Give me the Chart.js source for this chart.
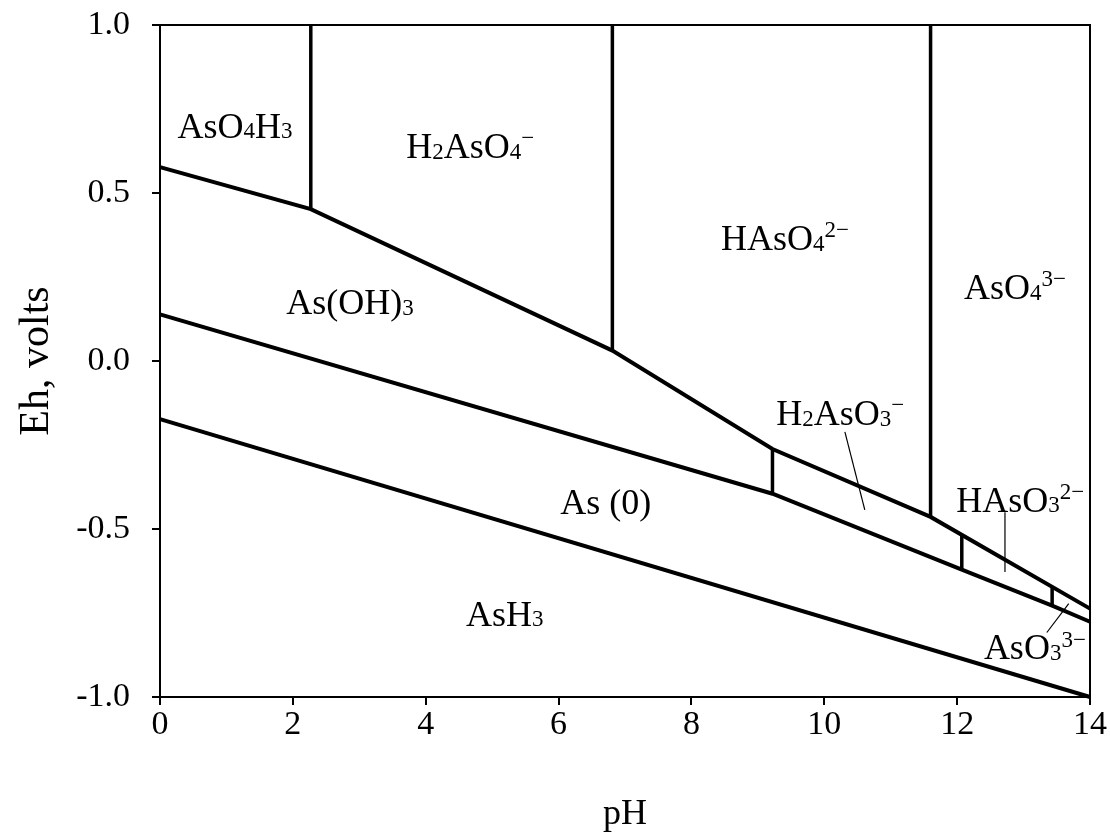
<!DOCTYPE html>
<html>
<head>
<meta charset="utf-8">
<script src="https://cdn.jsdelivr.net/npm/chart.js@4.4.1/dist/chart.umd.min.js"></script>
<style>
  html, body { margin: 0; padding: 0; background: #fff; }
  #wrap { width: 1110px; height: 834px; }
</style>
</head>
<body>
<div id="wrap"><canvas id="c"></canvas></div>
<script>
// Boundary lines of the As Eh-pH diagram
const upperPH = [0, 2.27, 6.81, 9.22, 11.6, 14];
const upperEh = [0.577, 0.452, 0.031, -0.262, -0.464, -0.737];

const middlePH = [0, 9.22, 12.07, 13.43, 14];
const middleEh = [0.139, -0.395, -0.621, -0.728, -0.776];

const lowerPH = [0, 14];
const lowerEh = [-0.173, -1.0];

// vertical acid/base boundaries
const vertPH = [2.27, 6.81, 11.6, 9.22, 12.07, 13.43];
const vertTop = [1.0, 1.0, 1.0, -0.262, -0.52, -0.675];
const vertBottom = [0.452, 0.031, -0.464, -0.395, -0.621, -0.728];

// thin leader lines from labels
const leaderPH = [[10.31, 10.61], [12.72, 12.72], [13.35, 13.68]];
const leaderEh = [[-0.211, -0.443], [-0.45, -0.628], [-0.808, -0.722]];

// species labels ( _{..} subscript, ^{..} superscript )
const labelText = ['AsO_{4}H_{3}', 'H_{2}AsO_{4}^{−}', 'HAsO_{4}^{2−}', 'AsO_{4}^{3−}',
  'As(OH)_{3}', 'H_{2}AsO_{3}^{−}', 'As (0)', 'HAsO_{3}^{2−}', 'AsH_{3}', 'AsO_{3}^{3−}'];
const labelPH = [1.13, 4.67, 9.41, 12.87, 2.86, 10.24, 6.71, 12.95, 5.19, 13.17];
const labelEh = [0.70, 0.64, 0.366, 0.22, 0.175, -0.155, -0.419, -0.413, -0.752, -0.853];

const xTicks = [0, 2, 4, 6, 8, 10, 12, 14];
const yTicks = [-1.0, -0.5, 0.0, 0.5, 1.0];

const FONT = '"Liberation Serif", "Times New Roman", serif';

function pts(xs, ys) {
  return xs.map((x, i) => ({ x: x, y: ys[i] }));
}

const heavy = { borderColor: '#000', borderWidth: 4, pointRadius: 0, showLine: true, fill: false, clip: 4 };

const datasets = [
  Object.assign({ data: pts(upperPH, upperEh) }, heavy),
  Object.assign({ data: pts(middlePH, middleEh) }, heavy),
  Object.assign({ data: pts(lowerPH, lowerEh) }, heavy)
];
vertPH.forEach((p, i) => {
  datasets.push(Object.assign({ data: [{ x: p, y: vertTop[i] }, { x: p, y: vertBottom[i] }] }, heavy, { borderWidth: 3.5 }));
});
leaderPH.forEach((xs, i) => {
  datasets.push({ data: pts(xs, leaderEh[i]), borderColor: '#000', borderWidth: 1.2, pointRadius: 0, showLine: true });
});

function drawRich(ctx, str, cx, cy, size) {
  const parts = [];
  const re = /_\{([^}]*)\}|\^\{([^}]*)\}|([^_^]+)/g;
  let m;
  while ((m = re.exec(str)) !== null) {
    if (m[1] !== undefined) parts.push({ t: m[1], k: 'sub' });
    else if (m[2] !== undefined) parts.push({ t: m[2], k: 'sup' });
    else parts.push({ t: m[3], k: '' });
  }
  const small = Math.round(size * 0.64);
  let w = 0;
  parts.forEach(p => {
    ctx.font = (p.k ? small : size) + 'px ' + FONT;
    p.w = ctx.measureText(p.t).width;
    w += p.w;
  });
  let x = cx - w / 2;
  const base = cy + size * 0.33;
  parts.forEach(p => {
    ctx.font = (p.k ? small : size) + 'px ' + FONT;
    let y = base;
    if (p.k === 'sub') y = base + size * 0.02;
    if (p.k === 'sup') y = base - size * 0.36;
    ctx.fillText(p.t, x, y);
    x += p.w;
  });
}

const decor = {
  id: 'decor',
  afterDatasetsDraw(chart) {
    const { ctx, chartArea: a, scales } = chart;
    ctx.save();
    ctx.strokeStyle = '#000';
    ctx.lineWidth = 2;
    ctx.beginPath();
    ctx.moveTo(a.left, a.top);
    ctx.lineTo(a.right, a.top);
    ctx.lineTo(a.right, a.bottom);
    ctx.stroke();
    ctx.fillStyle = '#000';
    ctx.textAlign = 'left';
    ctx.textBaseline = 'alphabetic';
    labelText.forEach((t, i) => {
      drawRich(ctx, t, scales.x.getPixelForValue(labelPH[i]), scales.y.getPixelForValue(labelEh[i]), 36);
    });
    ctx.restore();
  }
};

new Chart(document.getElementById('c'), {
  type: 'scatter',
  data: { datasets: datasets },
  options: {
    responsive: true,
    maintainAspectRatio: false,
    animation: false,
    layout: { padding: { top: 25, right: 20, left: 0, bottom: 0 } },
    plugins: { legend: { display: false }, tooltip: { enabled: false } },
    scales: {
      x: {
        type: 'linear', min: 0, max: 14,
        afterBuildTicks(s) { s.ticks = xTicks.map(v => ({ value: v })); },
        afterFit(s) { s.height = 137; },
        ticks: { color: '#000', font: { family: FONT, size: 34 }, padding: 0, maxRotation: 0 },
        grid: { drawOnChartArea: false, drawTicks: true, tickLength: 8, color: '#000', lineWidth: 2 },
        border: { color: '#000', width: 2 },
        title: { display: true, text: 'pH', color: '#000', font: { family: FONT, size: 36 }, padding: { top: 0, bottom: -2 } }
      },
      y: {
        type: 'linear', min: -1, max: 1,
        afterBuildTicks(s) { s.ticks = yTicks.map(v => ({ value: v })); },
        afterFit(s) { s.width = 160; s.paddingTop = 0; s.paddingBottom = 0; },
        ticks: { color: '#000', font: { family: FONT, size: 34 }, padding: 22,
          callback: v => v.toFixed(1) },
        grid: { drawOnChartArea: false, drawTicks: true, tickLength: 8, color: '#000', lineWidth: 2 },
        border: { color: '#000', width: 2 },
        title: { display: true, text: 'Eh, volts', color: '#000', font: { family: FONT, size: 42 }, padding: { top: 12, bottom: 0 } }
      }
    }
  },
  plugins: [decor]
});
</script>
</body>
</html>
